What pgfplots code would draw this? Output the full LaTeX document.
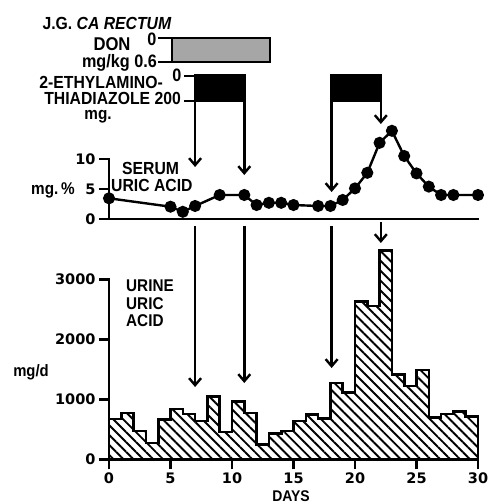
\documentclass[border=0pt]{standalone}
\usepackage{fontspec}
\setmainfont{Liberation Sans}[FakeStretch=0.9]
\newfontfamily\tickfont{DejaVu Sans}
\usepackage{pgfplots}
\pgfplotsset{compat=1.18}
\usetikzlibrary{patterns.meta,arrows.meta}

\newcommand{\lf}[1]{\bfseries\fontsize{#1}{#1}\selectfont}
\newcommand{\tf}[1]{\tickfont\bfseries\fontsize{#1}{#1}\selectfont}

\begin{document}
\begin{tikzpicture}
\useasboundingbox (0pt,0pt) rectangle (502pt,504pt);
\pgfplotsset{
  base/.style={scale only axis, width=369pt, xmin=0, xmax=30, enlargelimits=false, clip=false,
    axis x line=bottom, axis y line=left,
    axis line style={line width=2.6pt,-, line cap=rect},
    every tick/.style={line width=2.6pt, black}, tick align=outside, major tick length=10pt,
    ticklabel style={font=\tf{14.5}},
    /pgf/number format/assume math mode=true,
    anchor=south west}
}
% urine uric acid
\pgfplotstableread{
x y
0 670
1 773
2 470
3 273
4 660
5 840
6 755
7 640
8 1050
9 455
10 965
11 773
12 245
13 426
14 470
15 640
16 745
17 680
18 1270
19 1114
20 2627
21 2555
22 3477
23 1410
24 1220
25 1490
26 693
27 755
28 793
29 710
30 710
}\urine
\begin{axis}[base, at={(109pt,44.7pt)}, height=180pt, ymin=0, ymax=3000,
  ytick={0,1000,2000,3000}, yticklabels={0,1000,2000,3000},
  xtick={0,5,...,30}, xticklabels={0,5,10,15,20,25,30}]
\addplot[const plot, draw=black, line width=2.6pt, line join=miter, mark=none,
  pattern={Lines[angle=-45,distance=7pt,line width=1.9pt]}] table {\urine} \closedcycle;
\end{axis}
% serum uric acid
\begin{axis}[base, at={(109pt,285pt)}, height=60pt, ymin=0, ymax=10,
  ytick={0,5,10}, yticklabels={0,5,10}, xtick=\empty]
\addplot[black, line width=2.4pt, mark=*, mark size=4.8pt] coordinates {
(0,3.45)(5,2.05)(6,1.2)(7,2.17)(9,4.0)(11,4.0)(12,2.33)(13,2.7)(14,2.7)(15,2.33)
(17,2.17)(18,2.17)(19,3.17)(20,5.1)(21,7.7)(22,12.7)(23,14.7)(24,10.5)(25,7.6)
(26,5.4)(27,4.0)(28,4.0)(30,4.0)};
\end{axis}
% drugs and arrows (y in picture points)
\begin{axis}[scale only axis, width=369pt, height=504pt, at={(109pt,0pt)}, anchor=south west,
  xmin=0, xmax=30, ymin=0, ymax=504, hide axis, clip=false]
% DON
\addplot[draw=black, line width=2.4pt, line join=miter, fill=black!35, mark=none] coordinates {
(5.1,442)(5.1,466)(13.1,466)(13.1,442)(5.1,442)};
\addplot[black, line width=2.2pt, mark=none] coordinates {(4.0,466)(5.1,466)};
\addplot[black, line width=2.2pt, mark=none] coordinates {(4.0,442.3)(5.1,442.3)};
% 2-ethylamino-thiadiazole courses
\addplot[draw=black, line width=2.4pt, line join=miter, fill=black, mark=none] coordinates {
(7,403.3)(7,428.3)(11,428.3)(11,403.3)(7,403.3)};
\addplot[draw=black, line width=2.4pt, line join=miter, fill=black, mark=none] coordinates {
(18.1,403.3)(18.1,428.3)(22.1,428.3)(22.1,403.3)(18.1,403.3)};
\addplot[black, line width=2.2pt, mark=none] coordinates {(6.1,428.3)(7,428.3)};
\addplot[black, line width=2.2pt, mark=none] coordinates {(6.1,403.3)(7,403.3)};
% arrows
\pgfplotsset{arr/.style={black, line width=2.4pt, mark=none, -{Straight Barb[length=7pt,width=12pt]}}}
\addplot[arr] coordinates {(7,410)(7,337)};
\addplot[arr] coordinates {(11,410)(11,329)};
\addplot[arr] coordinates {(18.1,410)(18.1,312)};
\addplot[arr] coordinates {(22.1,410)(22.1,380)};
\addplot[arr] coordinates {(7,278)(7,117)};
\addplot[arr] coordinates {(11,278)(11,121)};
\addplot[arr] coordinates {(18.1,278)(18.1,136)};
\addplot[arr] coordinates {(22.1,282)(22.1,261)};
\end{axis}
% texts
\node[font=\lf{17.5}] at (107pt,481pt) {J.G. \textit{CA RECTUM}};
\node[font=\lf{18.5}] at (112pt,459.5pt) {DON};
\node[font=\lf{18}] at (152pt,465pt) {0};
\node[font=\lf{18}, anchor=base east, inner sep=0pt] at (157pt,436pt) {mg/kg 0.6};
\node[font=\lf{17.5}, anchor=east, inner sep=0pt] at (163pt,421.5pt) {2-ETHYLAMINO-};
\node[font=\lf{18}, anchor=center, inner sep=0pt] at (177pt,429pt) {0};
\node[font=\lf{17.5}, anchor=east, inner sep=0pt] at (181pt,405.5pt) {THIADIAZOLE 200};
\node[font=\lf{17}, anchor=base, inner sep=0pt] at (98pt,384pt) {mg.};
\node[font=\lf{17.5}, anchor=west, inner sep=0pt] at (122pt,336pt) {SERUM};
\node[font=\lf{17.5}, anchor=west, inner sep=0pt] at (111pt,319pt) {URIC ACID};
\node[font=\lf{17}] at (53pt,314pt) {mg.\,\%};
\node[font=\lf{17}, anchor=west, inner sep=0pt] at (126pt,218pt) {URINE};
\node[font=\lf{17}, anchor=west, inner sep=0pt] at (126pt,200pt) {URIC};
\node[font=\lf{17}, anchor=west, inner sep=0pt] at (126pt,183pt) {ACID};
\node[font=\lf{16.5}] at (31pt,132pt) {mg/d};
\node[font=\lf{15.5}, inner sep=0pt] at (291pt,7.5pt) {DAYS};
\end{tikzpicture}
\end{document}
